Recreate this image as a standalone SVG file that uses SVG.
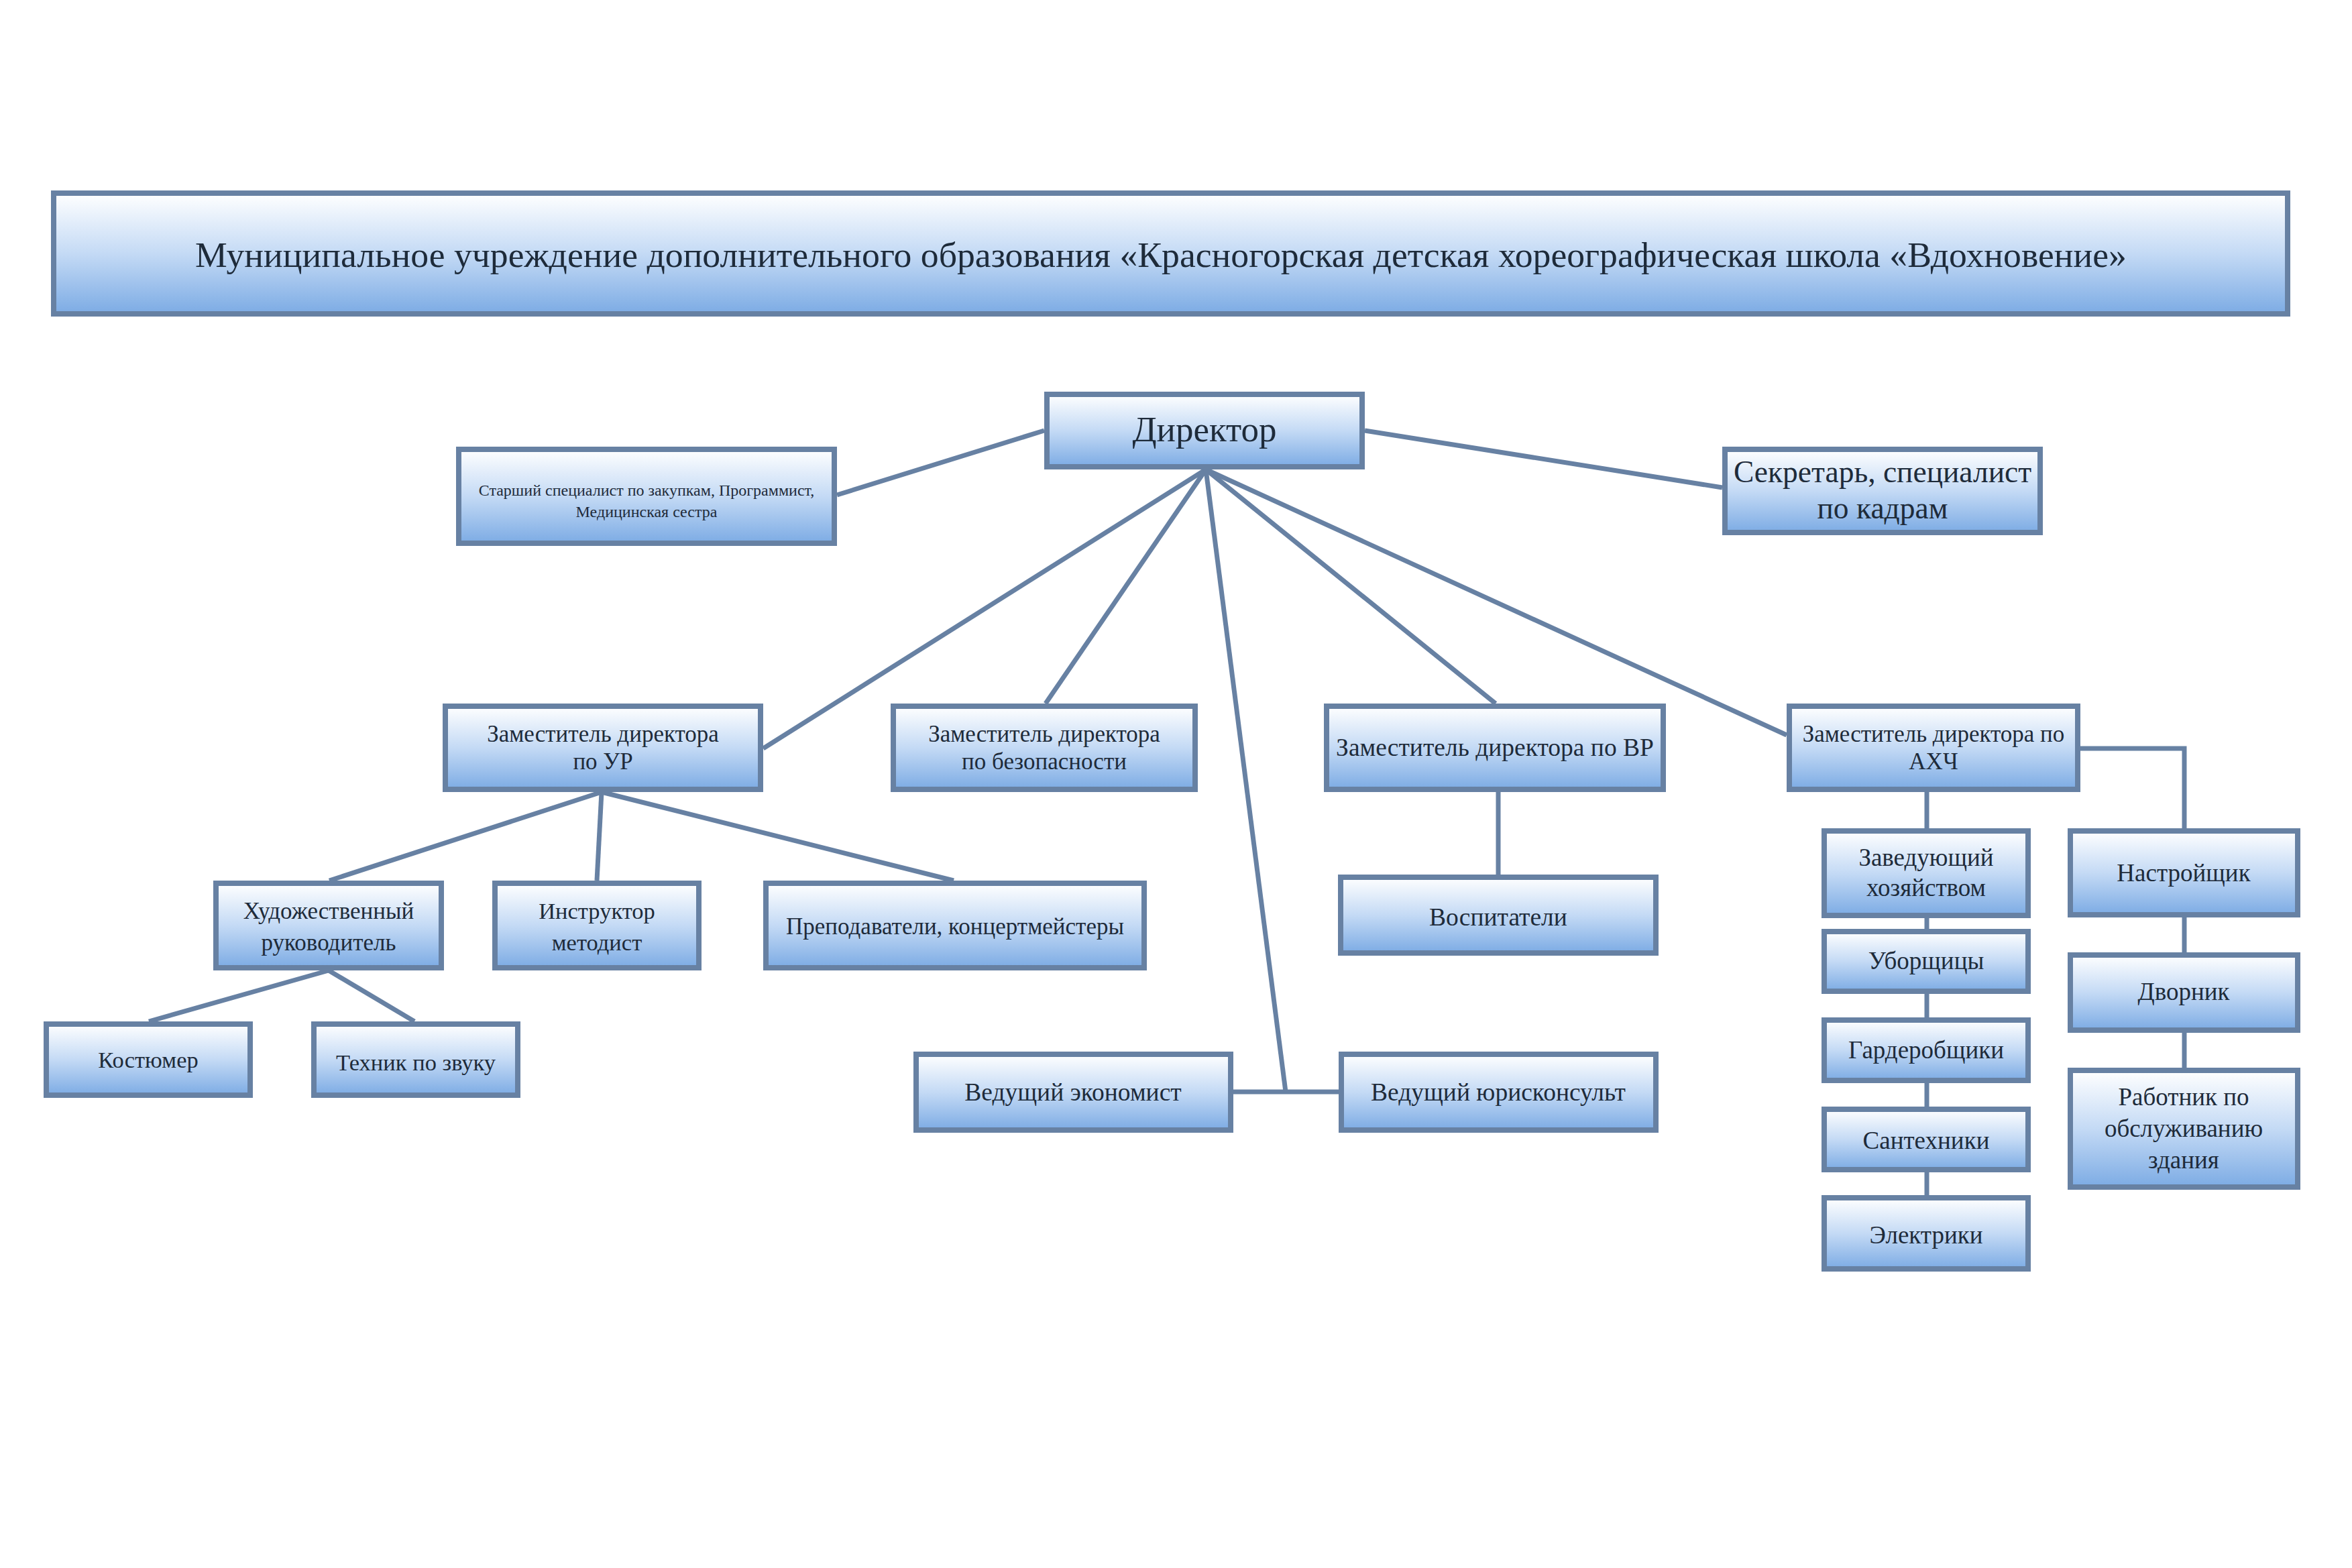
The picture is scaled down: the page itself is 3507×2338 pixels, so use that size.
<svg xmlns="http://www.w3.org/2000/svg" width="3507" height="2338" viewBox="0 0 3507 2338">
<defs>
<linearGradient id="g" x1="0" y1="0" x2="0" y2="1">
<stop offset="0" stop-color="#ffffff"/>
<stop offset="0.5" stop-color="#c4daf5"/>
<stop offset="1" stop-color="#7cabe4"/>
</linearGradient>
<style>
.box{fill:url(#g);stroke:#6781a3;stroke-width:8}
.t{font-family:"Liberation Serif","Times New Roman",serif;fill:#1e2b3a;text-anchor:middle}
.c{stroke:#6781a3;stroke-width:7;fill:none}
</style>
</defs>
<rect width="3507" height="2338" fill="#ffffff"/>
<g id="connectors">
<line class="c" x1="1557" y1="642" x2="1248" y2="738"/>
<line class="c" x1="2035" y1="642" x2="2568" y2="727"/>
<line class="c" x1="1798" y1="700" x2="1138" y2="1116"/>
<line class="c" x1="1798" y1="700" x2="1559" y2="1049"/>
<line class="c" x1="1798" y1="700" x2="2230" y2="1049"/>
<line class="c" x1="1798" y1="700" x2="2664" y2="1096"/>
<line class="c" x1="1798" y1="700" x2="1917" y2="1628"/>
<line class="c" x1="1839" y1="1628" x2="1996" y2="1628"/>
<line class="c" x1="897" y1="1181" x2="491" y2="1313"/>
<line class="c" x1="897" y1="1181" x2="890" y2="1313"/>
<line class="c" x1="897" y1="1181" x2="1422" y2="1313"/>
<line class="c" x1="490" y1="1447" x2="222" y2="1523"/>
<line class="c" x1="490" y1="1447" x2="618" y2="1523"/>
<line class="c" x1="2234" y1="1181" x2="2234" y2="1304"/>
<line class="c" x1="2873" y1="1181" x2="2873" y2="1782"/>
<polyline class="c" points="3102,1116 3257,1116 3257,1774"/>
</g>
<g id="title"><rect class="box" x="80" y="288" width="3331" height="180"/><text class="t" x="1731" y="398" font-size="53.7">Муниципальное учреждение дополнительного образования «Красногорская детская хореографическая школа «Вдохновение»</text></g>
<g id="director"><rect class="box" x="1561" y="588" width="470" height="108"/><text class="t" x="1796" y="658" font-size="53">Директор</text></g>
<g id="specialists"><rect class="box" x="684" y="670" width="560" height="140"/><text class="t" x="964" y="739" font-size="24">Старший специалист по закупкам, Программист,</text><text class="t" x="964" y="771" font-size="24">Медицинская сестра</text></g>
<g id="secretary"><rect class="box" x="2572" y="670" width="470" height="124"/><text class="t" x="2807" y="719" font-size="45.5">Секретарь, специалист</text><text class="t" x="2807" y="773" font-size="45.5">по кадрам</text></g>
<g id="dep-ur"><rect class="box" x="664" y="1053" width="470" height="124"/><text class="t" x="899" y="1106" font-size="35">Заместитель директора</text><text class="t" x="899" y="1147" font-size="35">по УР</text></g>
<g id="dep-sec"><rect class="box" x="1332" y="1053" width="450" height="124"/><text class="t" x="1557" y="1106" font-size="35">Заместитель директора</text><text class="t" x="1557" y="1147" font-size="35">по безопасности</text></g>
<g id="dep-vr"><rect class="box" x="1978" y="1053" width="502" height="124"/><text class="t" x="2229" y="1127" font-size="37.5">Заместитель директора по ВР</text></g>
<g id="dep-ahch"><rect class="box" x="2668" y="1053" width="430" height="124"/><text class="t" x="2883" y="1106" font-size="35">Заместитель директора по</text><text class="t" x="2883" y="1147" font-size="35">АХЧ</text></g>
<g id="art"><rect class="box" x="322" y="1317" width="336" height="126"/><text class="t" x="490" y="1370" font-size="35">Художественный</text><text class="t" x="490" y="1417" font-size="35">руководитель</text></g>
<g id="instructor"><rect class="box" x="738" y="1317" width="304" height="126"/><text class="t" x="890" y="1370" font-size="34.5">Инструктор</text><text class="t" x="890" y="1417" font-size="34.5">методист</text></g>
<g id="teachers"><rect class="box" x="1142" y="1317" width="564" height="126"/><text class="t" x="1424" y="1393" font-size="35">Преподаватели, концертмейстеры</text></g>
<g id="educators"><rect class="box" x="1999" y="1308" width="470" height="113"/><text class="t" x="2234" y="1380" font-size="37.5">Воспитатели</text></g>
<g id="costume"><rect class="box" x="69" y="1527" width="304" height="106"/><text class="t" x="221" y="1592" font-size="34.5">Костюмер</text></g>
<g id="sound"><rect class="box" x="468" y="1527" width="304" height="106"/><text class="t" x="620" y="1596" font-size="34.5">Техник по звуку</text></g>
<g id="economist"><rect class="box" x="1366" y="1572" width="469" height="113"/><text class="t" x="1600" y="1641" font-size="37.5">Ведущий экономист</text></g>
<g id="lawyer"><rect class="box" x="2000" y="1572" width="469" height="113"/><text class="t" x="2234" y="1641" font-size="37.5">Ведущий юрисконсульт</text></g>
<g id="household"><rect class="box" x="2720" y="1239" width="304" height="126"/><text class="t" x="2872" y="1291" font-size="37">Заведующий</text><text class="t" x="2872" y="1336" font-size="37">хозяйством</text></g>
<g id="cleaners"><rect class="box" x="2720" y="1389" width="304" height="89"/><text class="t" x="2872" y="1445" font-size="37">Уборщицы</text></g>
<g id="cloakroom"><rect class="box" x="2720" y="1521" width="304" height="90"/><text class="t" x="2872" y="1578" font-size="37">Гардеробщики</text></g>
<g id="plumbers"><rect class="box" x="2720" y="1654" width="304" height="90"/><text class="t" x="2872" y="1713" font-size="37">Сантехники</text></g>
<g id="electricians"><rect class="box" x="2720" y="1786" width="304" height="106"/><text class="t" x="2872" y="1854" font-size="37">Электрики</text></g>
<g id="tuner"><rect class="box" x="3087" y="1239" width="339" height="125"/><text class="t" x="3256" y="1314" font-size="37">Настройщик</text></g>
<g id="janitor"><rect class="box" x="3087" y="1424" width="339" height="112"/><text class="t" x="3256" y="1491" font-size="37">Дворник</text></g>
<g id="maintenance"><rect class="box" x="3087" y="1596" width="339" height="174"/><text class="t" x="3256" y="1648" font-size="37">Работник по</text><text class="t" x="3256" y="1695" font-size="37">обслуживанию</text><text class="t" x="3256" y="1742" font-size="37">здания</text></g>
</svg>
